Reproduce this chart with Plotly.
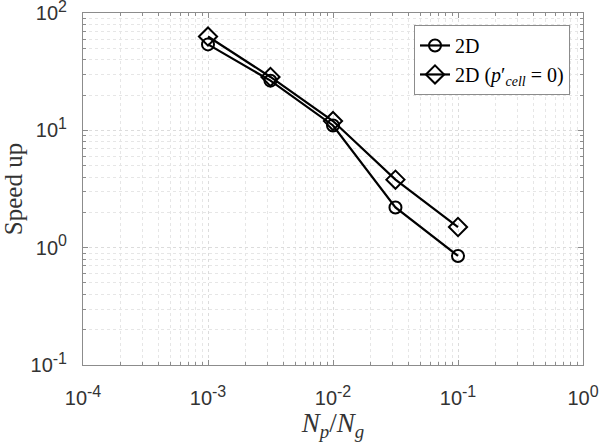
import plotly.graph_objects as go

ratio = [1e-3, 3.16e-3, 1e-2, 3.16e-2, 1e-1]
speedup_2d = [54, 26.5, 11.0, 2.2, 0.85]
speedup_2d_p0 = [63, 28.5, 12.0, 3.8, 1.5]

xtick_vals = [1e-4, 1e-3, 1e-2, 1e-1, 1]
x_exps = ["-4", "-3", "-2", "-1", "0"]
ytick_vals = [0.1, 1, 10, 100]
y_exps = ["-1", "0", "1", "2"]
minor_mult = [2, 3, 4, 5, 6, 7, 8, 9]

SUP = "10<sup><span style='font-size:16px'>{}</span></sup>"
xtick_text = [SUP.format(e) for e in x_exps]
ytick_text = [SUP.format(e) for e in y_exps]
x_minor = [m * d for d in xtick_vals[:-1] for m in minor_mult]
y_minor = [m * d for d in ytick_vals[:-1] for m in minor_mult]

fig = go.Figure()
fig.add_trace(go.Scatter(
    x=ratio, y=speedup_2d, mode="lines+markers", name="2D",
    line=dict(color="black", width=2.2),
    marker=dict(symbol="circle-open", size=12, color="black", line=dict(width=2)),
))
fig.add_trace(go.Scatter(
    x=ratio, y=speedup_2d_p0, mode="lines+markers",
    name="2D (<i>p</i>′<sub><i>cell</i></sub> = 0)",
    line=dict(color="black", width=2.2),
    marker=dict(symbol="diamond-open", size=14, color="black", line=dict(width=2)),
))

axis_common = dict(
    type="log", showline=True, linecolor="#8c8c8c", linewidth=1, mirror="ticks",
    ticks="inside", ticklen=5, tickcolor="#8c8c8c",
    showgrid=True, gridcolor="#dcdcdc", griddash="dot", gridwidth=1,
    zeroline=False, automargin=False, ticklabeloverflow="allow",
    tickfont=dict(family="Liberation Sans, Arial, sans-serif", size=20, color="#333333"),
)

fig.update_layout(
    width=600, height=442,
    margin=dict(l=83, r=17, t=13, b=77),
    plot_bgcolor="white", paper_bgcolor="white",
    xaxis=dict(axis_common, range=[-4, 0], tickvals=xtick_vals, ticktext=xtick_text,
               ticklabelstandoff=15,
               minor=dict(tickvals=x_minor, ticks="inside", ticklen=3, tickcolor="#8c8c8c",
                          showgrid=True, gridcolor="#e6e6e6", griddash="dot", gridwidth=1),
               title=dict(text="<i>N</i><sub><i>p</i></sub>/<i>N</i><sub><i>g</i></sub>",
                          font=dict(family="Liberation Serif, serif", size=27, color="#333333"),
                          standoff=2)),
    yaxis=dict(axis_common, range=[-1, 2], tickvals=ytick_vals, ticktext=ytick_text,
               ticklabelstandoff=11,
               minor=dict(tickvals=y_minor, ticks="inside", ticklen=3, tickcolor="#8c8c8c",
                          showgrid=True, gridcolor="#e6e6e6", griddash="dot", gridwidth=1),
               title=dict(text="Speed up",
                          font=dict(family="Liberation Serif, serif", size=25, color="#333333"),
                          standoff=13)),
    legend=dict(x=0.974, y=0.966, xanchor="right", yanchor="top",
                bgcolor="white", bordercolor="#8c8c8c", borderwidth=1,
                font=dict(family="Liberation Serif, serif", size=20, color="black"),
                tracegroupgap=0, itemwidth=30),
    showlegend=True,
)

# remove the browser's default 8px body margin so the figure fills the window
fig.write_html("out.html", config={"displayModeBar": False},
               post_script="document.body.style.margin='0';")
